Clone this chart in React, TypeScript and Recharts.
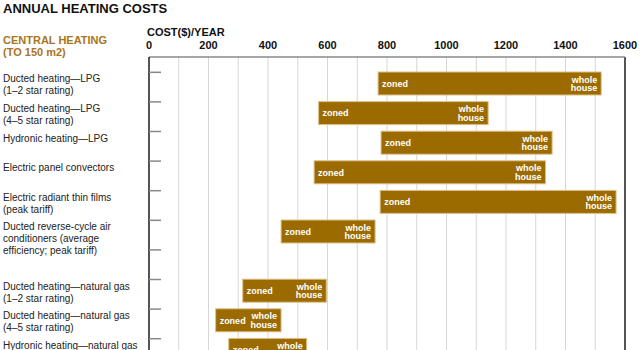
import React from "react";
import { BarChart, Bar, XAxis, YAxis, CartesianGrid, ReferenceLine } from "recharts";

// row labels (multi-line), one entry per heating type
const rowLabels: string[][] = [
  ["Ducted heating—LPG", "(1–2 star rating)"],
  ["Ducted heating—LPG", "(4–5 star rating)"],
  ["Hydronic heating—LPG"],
  ["Electric panel convectors"],
  ["Electric radiant thin films", "(peak tariff)"],
  ["Ducted reverse-cycle air", "conditioners (average", "efficiency; peak tariff)"],
  [],
  ["Ducted heating—natural gas", "(1–2 star rating)"],
  ["Ducted heating—natural gas", "(4–5 star rating)"],
  ["Hydronic heating—natural gas"],
];

// cost per year, zoned vs whole house
const zonedCost = [770, 570, 780, 555, 777, 444, null, 315, 224, 268];
const wholeHouseCost = [1520, 1140, 1355, 1333, 1570, 760, null, 596, 444, 530];

const xTicks = [0, 100, 200, 300, 400, 500, 600, 700, 800, 900, 1000, 1100, 1200, 1300, 1400, 1500, 1600];

const BAR_COLOR = "#9c6b00";
const HEAD_COLOR = "#a8761d";
const FONT = "Arial, 'Liberation Sans', Helvetica, sans-serif";

const data = rowLabels.map((_, i) => ({
  id: "r" + i,
  range: zonedCost[i] == null ? undefined : [zonedCost[i], wholeHouseCost[i]],
}));

const XTick = (props: any) => {
  const { x, payload } = props;
  if (payload.value % 200 !== 0) return null;
  return (
    <text x={x} y={49} textAnchor="middle" fontSize={11} fontWeight="bold" fill="#111" fontFamily={FONT}>
      {payload.value}
    </text>
  );
};

const YTick = (props: any) => {
  const { y, payload } = props;
  const idx = Number(String(payload.value).slice(1));
  const lines = rowLabels[idx] || [];
  const top = y - 11.5;
  return (
    <g>
      <line x1={149} x2={161} y1={top} y2={top} stroke="#888" strokeWidth={1.5} />
      {lines.map((l, k) => (
        <text key={k} x={3} y={top + 10 + k * 12} fontSize={10} fill="#222" fontFamily={FONT}>
          {l}
        </text>
      ))}
    </g>
  );
};

const RangeShape = (props: any) => {
  const { x, y, width, height } = props;
  if (!width || width <= 0) return null;
  const cy = y + height / 2;
  return (
    <g>
      <rect x={x} y={y} width={width} height={height} fill={BAR_COLOR} stroke="#dcc08a" strokeWidth={1} />
      <text x={x + 4} y={cy + 3.2} fontSize={9} fontWeight="bold" fill="#fff" fontFamily={FONT}>
        zoned
      </text>
      <text x={x + width - 4} y={cy - 1} textAnchor="end" fontSize={9} fontWeight="bold" fill="#fff" fontFamily={FONT}>
        whole
      </text>
      <text x={x + width - 4} y={cy + 7.5} textAnchor="end" fontSize={9} fontWeight="bold" fill="#fff" fontFamily={FONT}>
        house
      </text>
    </g>
  );
};

export default function App() {
  return (
    <div
      style={{
        position: "absolute",
        left: 0,
        top: 0,
        width: 640,
        height: 350,
        overflow: "hidden",
        background: "#fff",
        fontFamily: FONT,
      }}
    >
      <div style={{ position: "absolute", left: 3, top: 1, fontSize: 13, fontWeight: "bold", lineHeight: "15px", color: "#111" }}>
        ANNUAL HEATING COSTS
      </div>
      <div style={{ position: "absolute", left: 3, top: 34, fontSize: 11, fontWeight: "bold", lineHeight: "12px", color: HEAD_COLOR }}>
        CENTRAL HEATING
        <br />
        (TO 150 m2)
      </div>
      <div style={{ position: "absolute", left: 147, top: 26, fontSize: 11, fontWeight: "bold", lineHeight: "12px", color: "#111" }}>
        COST($)/YEAR
      </div>
      <div style={{ position: "absolute", left: 0, top: 0 }}>
        <BarChart
          width={640}
          height={365}
          data={data}
          layout="vertical"
          margin={{ top: 0, right: 15, left: 0, bottom: 0 }}
          barSize={23}
        >
          <CartesianGrid horizontal={false} stroke="#d6d6d6" />
          <XAxis
            type="number"
            orientation="top"
            domain={[0, 1600]}
            ticks={xTicks}
            height={57}
            tickLine={false}
            axisLine={{ stroke: "#888", strokeWidth: 1.5 }}
            tick={<XTick />}
            interval={0}
          />
          <YAxis
            type="category"
            dataKey="id"
            width={149}
            padding={{ top: 12, bottom: 0 }}
            tickLine={false}
            axisLine={{ stroke: "#222", strokeWidth: 1.5 }}
            tick={<YTick />}
            interval={0}
          />
          <ReferenceLine x={1600} stroke="#222" strokeWidth={1.5} />
          <Bar dataKey="range" shape={<RangeShape />} isAnimationActive={false} />
        </BarChart>
      </div>
    </div>
  );
}
